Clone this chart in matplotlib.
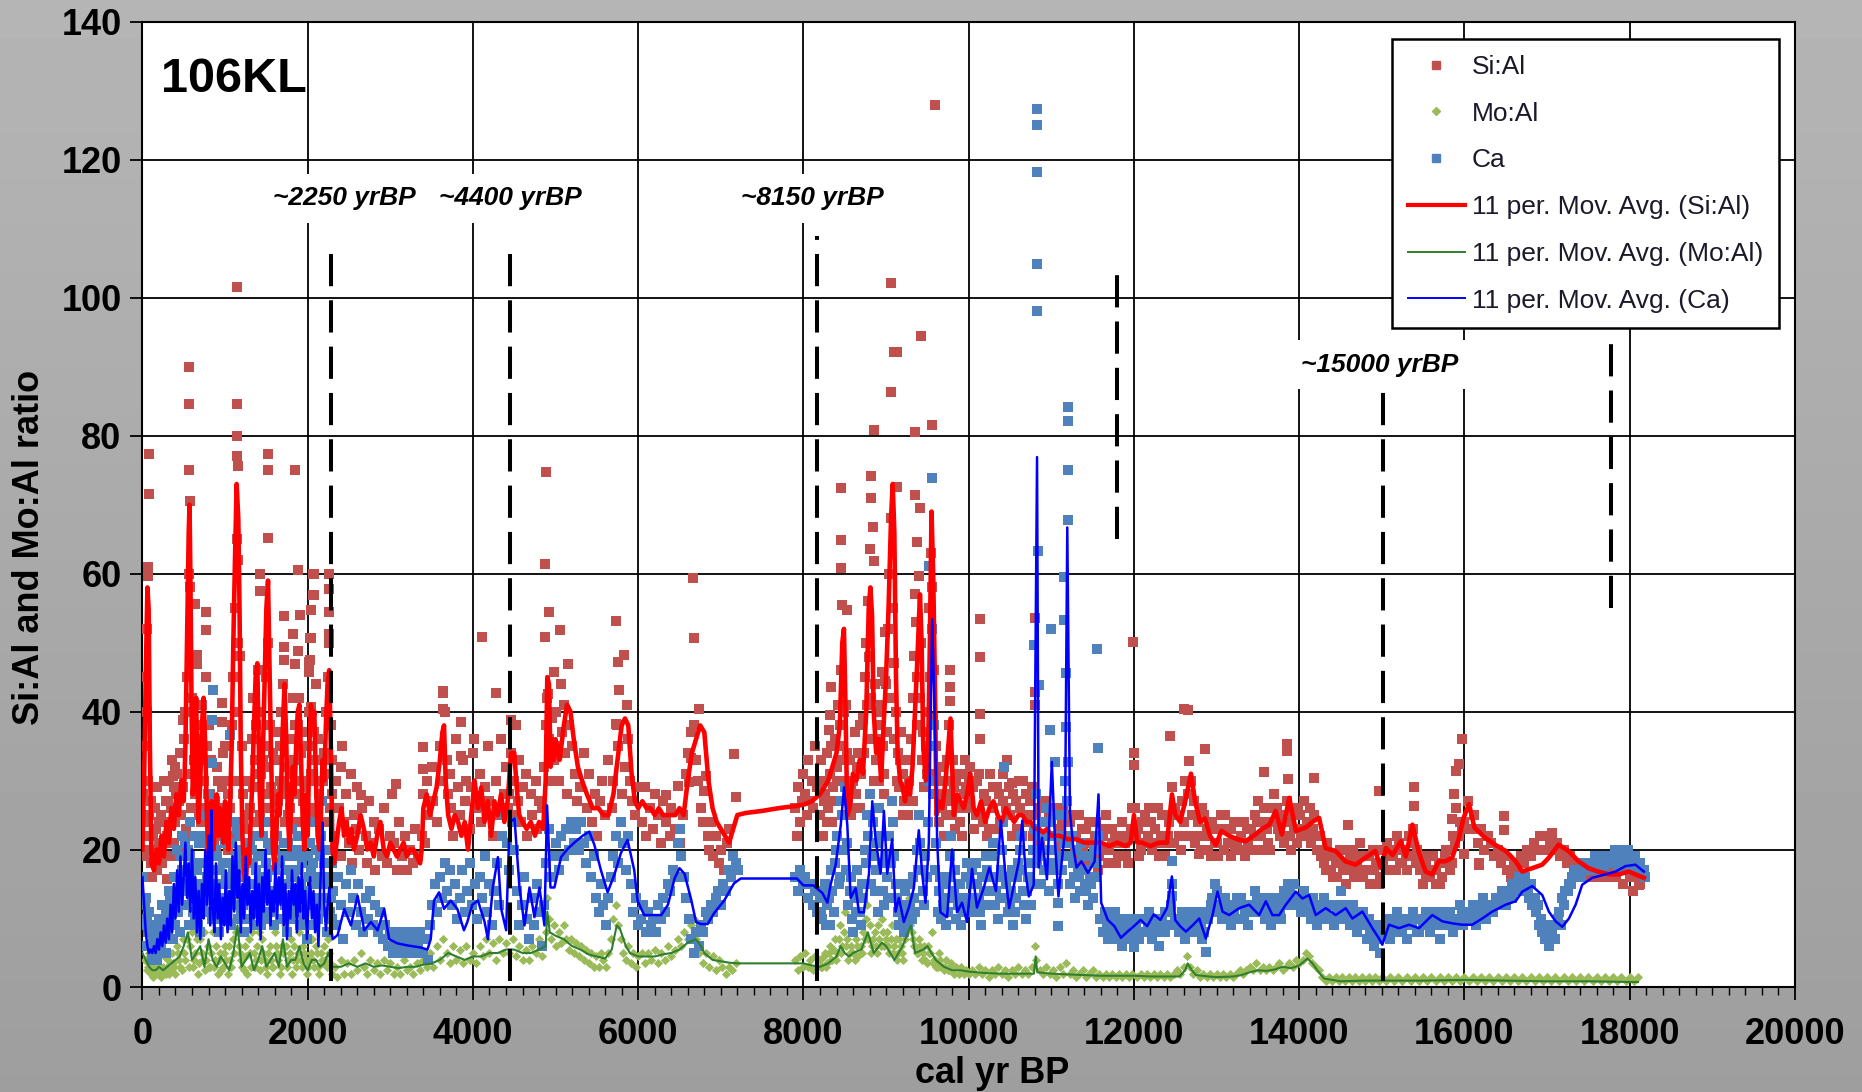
import numpy as np
import matplotlib
matplotlib.use("Agg")
import matplotlib.pyplot as plt
from matplotlib.lines import Line2D
from matplotlib.ticker import MultipleLocator

plt.rcParams['font.family'] = ['Liberation Sans', 'DejaVu Sans']

# ---------------- data ----------------
si_pts = [
 (10,28),(20,22),(30,35),(40,45),(50,52),(60,40),(70,30),(80,25),(100,18),(120,16),(140,20),(160,23),(180,17),(200,21),
 (220,25),(240,19),(260,24),(280,27),(300,22),(320,30),(340,26),(360,33),(380,29),(400,24),(420,31),(440,27),(460,34),
 (480,22),(500,36),(520,40),(540,45),(560,60),(580,58),(600,42),(620,33),(640,28),(660,31),(680,25),(700,36),(720,41),
 (740,30),(760,26),(780,35),(800,38),(820,28),(840,24),(860,21),(880,27),(900,32),(920,25),(940,22),(960,29),(980,34),
 (1000,30),(1020,24),(1040,20),(1060,26),(1080,38),(1100,45),(1120,55),(1140,65),(1160,62),(1180,48),(1200,35),(1220,28),
 (1240,23),(1260,19),(1280,25),(1300,30),(1320,36),(1340,42),(1360,33),(1380,38),(1400,46),(1420,40),(1440,31),(1460,26),
 (1480,35),(1500,45),(1520,50),(1540,38),(1560,29),(1580,24),(1600,28),(1620,33),(1640,37),(1660,30),(1680,40),(1700,44),
 (1720,36),(1740,28),(1760,25),(1780,31),(1800,36),(1820,42),(1840,33),(1860,28),(1880,38),(1900,42),(1920,34),(1940,27),
 (1960,24),(1980,30),(2000,35),(2020,40),(2040,31),(2060,26),(2080,37),(2100,44),(2120,36),(2140,28),(2160,24),(2180,30),
 (2200,34),(2220,40),(2240,45),(2260,50),(2280,38),(2300,28),
 (566,89.9),(566,84.6),(1147,84.6),(1147,80),(1150,77),(1160,75.6),(83,77.4),(83,71.5),(566,75),(575,70.6),(1521,77.4),
 (1521,75),(1852,75),(1521,65.2),(71,61),(71,59.7),(1884,60.6),(2077,59.9),(1421,59.9),(1421,57.5),(2077,56.9),(1715,53.8),
 (1904,54),(1824,51.3),(768,54.4),(768,51.9),(1715,49.4),(639,55.6),(1884,48.8),(2025,50.6),(2025,47.5),(1715,47.5),
 (1844,46.9),(768,45),(848,43.2),(957,41.3),(494,38.8),(957,38.5),(393,32),(373,30.7),(292,22),(292,15.8),(655,48.2),
 (655,46.9),(1150,101.5),
 (2060,60),(2060,56.9),(2040,54.7),(2040,50.6),(2260,60),(2260,57.8),(2260,54.4),(2260,51.3),(2020,47.2),(2020,45.7),
 (2040,40.7),(2400,32),(2640,27.9),(3065,29.5),(3390,34.8),(3390,31.7),(3640,42.7),(3640,40.4),(3850,38.5),(3850,33.5),
 (4110,50.8),(4010,36),
 (2320,22),(2340,30),(2380,26),(2400,19),(2420,35),(2440,24),(2460,28),(2500,21),(2520,31),(2540,18),(2560,25),(2580,23),
 (2600,29),(2620,20),(2660,26),(2700,22),(2720,18),(2740,27),(2760,21),(2800,24),(2820,17),(2860,23),(2900,19),(2920,26),
 (2960,18),(3000,22),(3020,28),(3040,21),(3080,17),(3100,24),(3140,19),(3180,22),(3200,17),(3240,20),(3280,18),(3300,23),
 (3340,19),(3380,22),(3400,28),(3420,21),(3440,30),(3460,25),(3500,32),(3520,27),(3560,24),(3600,35),(3620,30),(3640,43),
 (3660,40),(3680,33),(3700,28),(3720,31),(3740,26),(3760,22),(3800,36),(3820,29),(3840,25),(3880,33),(3900,27),(3920,30),
 (3960,23),(3980,29),(4000,34),(4040,26),(4080,31),(4100,24),(4140,29),(4180,35),(4200,27),(4240,22),(4280,30),(4300,25),
 (4340,36),(4380,28),(4400,32),(4420,26),
 (4885,74.8),(4873,61.4),(4925,54.4),(4873,50.8),(5058,51.8),(4985,45.7),(5147,46.9),(5730,53.1),(5830,48.2),(5750,47.2),
 (5770,43.2),(4280,42.7),(4460,38.8),(5730,38.2),(4905,42.6),
 (4440,28),(4460,34),(4480,25),(4500,30),(4520,38),(4540,27),(4560,33),(4580,24),(4600,29),(4640,31),(4660,22),(4700,28),
 (4720,25),(4760,30),(4780,23),(4800,27),(4840,26),(4860,32),(4880,38),(4900,42),(4920,36),(4940,30),(4960,39),(4980,33),
 (5000,40),(5020,35),(5040,30),(5060,44),(5080,37),(5100,41),(5120,34),(5140,28),(5160,38),(5200,35),(5240,31),(5260,27),
 (5300,29),(5340,34),(5380,26),(5400,31),(5440,24),(5480,28),(5500,22),(5540,27),(5560,30),(5600,25),(5640,33),(5680,26),
 (5700,30),(5740,38),(5760,35),(5800,28),(5840,32),(5860,41),(5880,36),(5900,30),(5920,27),(5960,25),(6000,29),
 (6660,59.4),(6672,50.7),(6740,40.4),(7160,33.8),(6640,33.2),(6620,29.8),(6480,29.2),(6340,27.9),(7180,27.6),(6820,30.7),
 (6800,28.5),
 (6040,24),(6080,29),(6100,22),(6140,26),(6180,23),(6200,28),(6240,25),(6280,21),(6300,27),(6340,24),(6380,22),(6400,26),
 (6440,23),(6500,21),(6540,25),(6580,31),(6600,34),(6640,37),(6680,38),(6700,33),(6720,30),(6760,26),(6780,24),(6840,22),
 (6860,20),(6880,24),(6900,19),(6940,22),(6980,18),(7000,20),(7040,17),(7080,21),(7100,23),
 (7900,26),(7920,22),(7940,29),(7960,24),(7980,27),(8000,31),(8020,28),(8040,25),(8060,33),(8080,27),(8100,30),(8120,26),
 (8140,35),(8160,29),
 (9054,102.2),(9094,92.1),(9135,92.1),(9424,94.4),(9054,86.3),(8853,80.8),(9356,80.6),(9557,81.5),(8813,74.1),(8451,72.4),
 (9135,72.5),(9356,71.4),(9416,69.5),(8813,71),(8845,66.8),(8451,64.9),(8805,63.6),(8853,61.8),(9376,64.6),(8451,60.8),
 (9396,59.7),(8983,51.5),(8471,55.5),(8531,54.8),(10140,53.4),(10140,47.9),(9778,46.1),(9778,43.6),(8330,43.6),(10140,39.7),
 (10140,36),(9778,41.6),(8322,39.5),(8310,37.4),(8950,45.8),(8990,44.4),(9356,57),(8793,47.9),(9590,128),
 (8200,25),(8220,30),(8240,22),(8260,28),(8280,34),(8300,26),(8320,31),(8340,24),(8360,29),(8380,36),(8400,32),(8420,41),
 (8440,38),(8460,46),(8480,35),(8500,30),(8520,41),(8540,27),(8560,33),(8580,25),(8600,30),(8620,37),(8640,28),(8660,34),
 (8680,26),(8700,31),(8720,39),(8740,45),(8760,50),(8780,56),(8800,48),(8820,42),(8840,36),(8860,44),(8880,33),(8900,38),
 (8920,30),(8940,41),(8960,35),(8980,28),(9000,44),(9020,52),(9040,60),(9060,68),(9080,55),(9100,47),(9120,40),(9140,34),
 (9160,29),(9180,37),(9200,31),(9220,27),(9240,33),(9260,25),(9280,30),(9300,36),(9320,42),(9340,48),(9360,53),(9380,45),
 (9400,38),(9420,50),(9440,33),(9460,29),(9480,35),(9500,40),(9520,55),(9540,63),(9560,58),(9580,46),(9600,35),(9620,28),
 (9640,24),(9660,30),(9680,26),(9700,22),(9720,28),(9740,33),(9760,38),(9780,30),(9800,25),(9820,29),(9840,23),(9860,27),
 (9880,31),(9900,26),(9920,22),(9940,28),(9960,33),(9980,26),(10000,30),
 (11993,50.1),(12600,40.4),(12440,36.5),(12000,34),(12000,32.3),(10530,29.7),(10800,53.5),(10800,42.9),(10800,41),
 (10020,27),(10060,23),(10100,30),(10140,25),(10180,28),(10220,22),(10260,31),(10300,26),(10340,29),(10380,24),(10420,27),
 (10460,33),(10500,25),(10540,28),(10580,23),(10620,26),(10660,30),(10700,24),(10740,27),(10780,22),(10820,25),(10860,21),
 (10900,24),(10940,27),(10980,22),(11020,25),(11060,20),(11100,23),(11140,26),(11180,21),(11220,24),(11260,19),(11300,22),
 (11340,25),(11380,20),(11420,23),(11460,18),(11500,21),(11540,24),(11580,19),(11620,22),(11660,25),(11700,20),(11740,23),
 (11780,18),(11820,21),(11860,24),(11900,19),(11940,22),(11980,26),
 (12660,40.2),(12862,34.6),(13858,35.3),(13858,34.3),(13568,31.2),(13870,30.2),(14180,30.4),(12670,32.9),(14966,28.5),
 (15393,29),(15389,26.3),(14595,23.6),(15966,36),(15933,32.4),(15893,31.4),(15877,28.1),(15853,24.4),(15994,19.3),
 (16175,18.1),(12790,19.3),
 (12020,22),(12060,19),(12100,24),(12140,21),(12180,26),(12220,20),(12260,23),(12300,19),(12340,25),(12380,21),(12420,24),
 (12460,29),(12500,26),(12540,22),(12580,27),(12620,30),(12660,28),(12700,25),(12740,21),(12780,24),(12820,26),(12860,22),
 (12900,20),(12940,24),(12980,21),(13020,19),(13060,23),(13100,25),(13140,21),(13180,23),(13220,20),(13260,24),(13300,22),
 (13340,19),(13380,21),(13420,23),(13460,25),(13500,27),(13540,22),(13580,24),(13620,21),(13660,26),(13700,28),(13740,23),
 (13780,25),(13820,21),(13860,24),(13900,20),(13940,23),(13980,26),(14020,22),(14060,27),(14100,24),(14140,21),(14180,25),
 (14220,22),(14260,19),(14300,18),(14340,21),(14380,17),(14420,19),(14460,16),(14500,18),(14540,20),(14580,17),(14620,19),
 (14660,16),(14700,18),(14740,21),(14780,17),(14820,19),(14860,15),(14900,17),(14940,20),(14980,16),(15020,18),(15060,21),
 (15100,17),(15140,19),(15180,22),(15220,18),(15260,20),(15300,17),(15340,19),(15380,23),(15420,20),(15460,17),(15500,15),
 (15540,18),(15580,16),(15620,19),(15660,17),(15700,15),(15740,18),(15780,20),(15820,17),(15860,22),(15900,26),(15940,24),
 (16478,24.9),(16478,22.9),(16176,17.8),(17063,22.4),(18110,14.9),
 (16000,24),(16040,27),(16080,23),(16120,25),(16160,21),(16200,23),(16240,20),(16280,22),(16320,21),(16360,19),(16400,20),
 (16440,18),(16480,19),(16520,17),(16560,16),(16600,18),(16640,17),(16680,19),(16720,18),(16760,20),(16800,19),(16840,21),
 (16880,20),(16920,22),(16960,20),(17000,22),(17040,21),(17080,20),(17120,21),(17160,19),(17200,20),(17240,18),(17280,19),
 (17320,17),(17360,18),(17400,17),(17440,16),(17480,17),(17520,16),(17560,17),(17600,16),(17640,17),(17680,16),(17720,17),
 (17760,16),(17800,17),(17840,16),(17880,17),(17920,15),(17960,17),(18000,16),(18040,14),(18080,16),(18120,15),(18160,17),
]

si_pts_dense = [
 (15,19),(45,24),(85,20),(105,27),(125,22),(155,26),(175,29),(205,24),(235,18),(255,30),(275,21),(305,27),(335,19),
 (355,24),(385,21),(405,28),(435,20),(465,25),(495,29),(525,23),(555,31),(585,26),(615,22),(645,38),(675,30),(705,24),
 (735,33),(765,21),(795,28),(825,33),(855,27),(885,20),(915,30),(945,26),(975,23),(1005,35),(1035,28),(1065,22),(1095,30),
 (1125,40),(1155,50),(1185,30),(1215,24),(1245,30),(1275,21),(1305,26),(1335,29),(1365,24),(1395,31),(1425,25),(1455,33),
 (1485,28),(1515,32),(1545,26),(1575,34),(1605,22),(1635,27),(1665,35),(1695,29),(1725,24),(1755,32),(1785,26),(1815,29),
 (1845,38),(1875,24),(1905,30),(1935,37),(1965,29),(1995,26),(2025,30),(2055,33),(2085,25),(2115,30),(2145,33),(2175,27),
 (2205,24),(2235,31),(2265,26),(2295,33),
 (8210,33),(8250,27),(8290,24),(8330,35),(8370,27),(8410,30),(8450,33),(8490,40),(8530,34),(8570,29),(8610,26),(8650,32),
 (8690,38),(8730,34),(8770,41),(8810,36),(8850,30),(8890,40),(8930,36),(8970,31),(9010,37),(9050,42),(9090,36),(9130,30),
 (9170,33),(9210,25),(9250,28),(9290,33),(9330,27),(9370,38),(9410,42),(9450,37),(9490,31),(9530,45),(9570,39),(9610,31),
 (9650,27),(9690,32),(9730,25),(9770,27),(9810,33),(9850,30),(9890,24),(9930,31),(9970,29),
 (10010,32),(10050,29),(10090,25),(10130,31),(10170,24),(10210,27),(10250,23),(10290,29),(10330,23),(10370,28),(10410,31),
 (10450,26),(10490,29),(10530,22),(10570,27),(10610,30),(10650,22),(10690,28),(10730,25),(10770,29),(10810,23),(10850,26),
 (10890,27),(10930,20),(10970,25),(11010,22),(11050,26),(11090,21),(11130,24),(11170,19),(11210,22),(11250,25),(11290,20),
 (11330,18),(11370,23),(11410,21),(11450,24),(11490,19),(11530,22),(11570,17),(11610,20),(11650,23),(11690,18),(11730,21),
 (11770,22),(11810,19),(11850,22),(11890,21),(11930,18),(11970,23),
 (12010,26),(12050,23),(12090,20),(12130,25),(12170,22),(12210,24),(12250,21),(12290,26),(12330,22),(12370,19),(12410,22),
 (12450,25),(12490,21),(12530,25),(12570,20),(12610,24),(12650,22),(12690,30),(12730,27),(12770,22),(12810,20),(12850,25),
 (12890,23),(12930,19),(12970,23),(13010,21),(13050,25),(13090,20),(13130,23),(13170,19),(13210,24),(13250,21),(13290,20),
 (13330,24),(13370,23),(13410,20),(13450,22),(13490,24),(13530,20),(13570,26),(13610,23),(13650,20),(13690,24),(13730,26),
 (13770,22),(13810,24),(13850,27),(13890,22),(13930,25),(13970,21),(14010,25),(14050,23),(14090,22),(14130,26),(14170,23),
 (14210,20),(14250,22),(14290,20),(14330,17),(14370,19),(14410,16),(14450,18),(14490,20),(14530,17),(14570,15),(14610,18),
 (14650,20),(14690,17),(14730,19),(14770,16),(14810,17),(14850,19),(14890,20),(14930,18),(14970,15),(15010,20),(15050,17),
 (15090,19),(15130,20),(15170,17),(15210,21),(15250,18),(15290,19),(15330,22),(15370,21),(15410,18),(15450,19),(15490,17),
 (15530,16),(15570,19),(15610,17),(15650,15),(15690,18),(15730,16),(15770,19),(15810,20),(15850,18),(15890,21),(15930,22),
 (15970,23),
]

ca_pts = [
 (10,16),(30,12),(50,10),(70,8),(90,6),(110,5),(130,7),(150,4),(170,6),(190,5),(210,8),(230,6),(250,9),(270,7),(290,11),
 (310,8),(330,13),(350,10),(370,7),(390,12),(410,16),(430,11),(450,19),(470,14),(490,22),(510,17),(530,12),(550,20),(570,24),
 (590,16),(610,11),(630,18),(650,14),(670,9),(690,21),(710,15),(730,12),(750,18),(770,25),(790,28),(810,19),(830,14),(850,26),
 (870,17),(890,11),(910,15),(930,8),(950,13),(970,18),(990,10),(1010,16),(1030,21),(1050,13),(1070,9),(1090,17),(1110,24),
 (1130,19),(1150,14),(1170,22),(1190,11),(1210,16),(1230,8),(1250,13),(1270,18),(1290,10),(1310,15),(1330,20),(1350,12),
 (1370,17),(1390,22),(1410,14),(1430,9),(1450,19),(1470,13),(1490,24),(1510,16),(1530,11),(1550,20),(1570,14),(1590,9),
 (1610,17),(1630,22),(1650,13),(1670,18),(1690,10),(1710,21),(1730,15),(1750,8),(1770,19),(1790,13),(1810,23),(1830,16),
 (1850,11),(1870,20),(1890,14),(1910,9),(1930,18),(1950,22),(1970,13),(1990,7),(2010,16),(2030,21),(2050,12),(2070,18),
 (2090,24),(2110,15),(2130,10),(2150,19),(2170,27),(2190,20),(2210,13),(2230,8),(2250,15),(2270,11),(2290,18),
 (848,43.2),(836,38.8),(1058,36.6),(836,32.6),
 (2310,14),(2340,9),(2370,16),(2400,12),(2430,7),(2460,15),(2490,11),(2520,17),(2550,13),(2580,9),(2610,15),(2640,11),
 (2670,8),(2700,13),(2730,10),(2760,14),(2790,9),(2820,12),(2850,8),(2880,11),(2910,7),(2940,9),(2970,6),(3000,8),(3030,5),
 (3060,7),(3090,6),(3120,8),(3150,5),(3180,7),(3210,6),(3240,8),(3270,5),(3300,7),(3330,6),(3360,8),(3390,5),(3420,7),
 (3450,4),(3480,9),(3510,12),(3540,15),(3570,11),(3600,16),(3630,13),(3660,18),(3690,14),(3720,17),(3750,12),(3780,15),
 (3810,10),(3840,13),(3870,17),(3900,11),(3930,14),(3960,18),(3990,12),(4020,15),(4050,10),(4080,16),(4110,13),(4140,19),
 (4170,11),(4200,15),(4230,9),(4260,14),(4290,18),(4320,12),(4350,22),(4380,25),(4410,21),(4440,17),
 (4470,24),(4500,20),(4530,14),(4560,9),(4590,12),(4620,16),(4650,10),(4680,7),(4710,13),(4740,9),(4770,15),(4800,11),
 (4830,6),(4860,12),(4890,18),(4920,23),(4950,16),(4980,19),(5010,21),(5040,17),(5070,22),(5100,19),(5130,23),(5160,20),
 (5190,24),(5220,21),(5250,23),(5280,20),(5310,24),(5340,21),(5370,18),(5400,22),(5430,16),(5460,19),(5490,13),(5520,11),
 (5550,15),(5580,12),(5610,9),(5640,13),(5670,16),(5700,19),(5730,22),(5760,18),(5790,24),(5820,21),(5850,17),(5880,22),
 (5910,15),(5940,11),(5970,13),(6000,9),
 (6030,10),(6060,12),(6090,8),(6120,11),(6150,9),(6180,10),(6210,8),(6240,12),(6270,10),(6300,13),(6330,11),(6360,15),
 (6390,14),(6420,17),(6450,16),(6480,21),(6500,23),(6520,19),(6550,16),(6580,13),(6610,10),(6640,7),(6670,5),(6700,8),
 (6730,6),(6760,9),(6790,8),(6820,11),(6850,10),(6880,12),(6910,11),(6940,13),(6970,14),(7000,12),(7030,15),(7060,14),
 (7090,17),(7120,16),(7150,19),(7180,18),(7210,17),
 (7900,16),(7930,14),(7960,17),(7990,15),(8020,16),(8050,13),(8080,15),(8110,12),(8140,14),(8170,11),
 (8200,13),(8230,10),(8260,15),(8290,12),(8320,9),(8350,14),(8380,18),(8410,22),(8440,16),(8470,25),(8500,29),(8530,21),
 (8560,14),(8590,10),(8620,13),(8650,17),(8680,11),(8710,15),(8740,20),(8770,25),(8800,28),(8830,19),(8860,14),(8890,21),
 (8920,26),(8950,18),(8980,12),(9010,16),(9040,22),(9070,27),(9100,19),(9130,13),(9160,9),(9190,12),(9220,8),(9250,11),
 (9280,15),(9310,10),(9340,13),(9370,20),(9400,25),(9430,17),(9460,12),(9490,16),(9520,30),(9550,45),(9580,38),(9610,21),
 (9640,14),(9670,10),(9700,13),(9730,9),(9760,16),(9790,22),(9820,14),(9850,10),(9880,13),(9910,9),(9940,12),(9970,16),
 (10000,11),(9557,73.8),(9517,61.1),(9550,52),
 (10827,127.4),(10827,125.1),(10827,118.3),(10827,104.9),(10827,98.1),(11197,84.1),(11205,82.2),(11205,75),(11197,67.8),
 (10839,63.3),(11157,59.5),(11000,52),(11157,53.3),(10787,49.7),(11555,49.1),(10847,43.8),(11177,45.6),(10986,37.4),
 (11177,37.8),(11563,34.7),(10430,32),(11205,32.7),(11046,32.7),(11086,12.3),(11086,8.9),(12000,5.9),(12460,18.3),
 (12460,13.2),
 (10030,15),(10060,11),(10090,18),(10120,13),(10150,9),(10180,14),(10210,19),(10240,12),(10270,16),(10300,21),(10330,14),
 (10360,10),(10390,17),(10420,24),(10450,15),(10480,11),(10510,14),(10540,9),(10570,13),(10600,18),(10630,22),(10660,14),
 (10690,10),(10720,16),(10750,12),(10780,20),(10810,28),(10840,22),(10870,15),(10900,20),(10930,26),(10960,18),(10990,24),
 (11020,17),(11050,22),(11080,15),(11110,19),(11140,25),(11170,30),(11200,21),(11230,15),(11260,18),(11290,13),(11320,17),
 (11350,14),(11380,19),(11410,15),(11440,12),(11470,16),(11500,13),(11530,18),(11560,22),(11590,10),(11620,8),(11650,11),
 (11680,7),(11710,10),(11740,8),(11770,11),(11800,7),(11830,9),(11860,6),(11890,9),(11920,8),(11950,10),(11980,7),
 (12020,9),(12060,7),(12100,10),(12140,8),(12180,11),(12220,7),(12260,9),(12300,6),(12340,10),(12380,8),(12420,11),
 (12460,15),(12500,10),(12540,8),(12580,11),(12620,7),(12660,9),(12700,10),(12740,8),(12780,11),(12820,7),(12870,5.2),
 (12900,10),(12940,13),(12980,15),(13020,12),(13060,10),(13100,13),(13140,11),(13180,9),(13220,12),(13260,10),(13300,13),
 (13340,11),(13380,9),(13420,12),(13460,14),(13500,11),(13540,13),(13580,10),(13620,12),(13660,9),(13700,11),(13740,13),
 (13780,10),(13820,14),(13860,15),(13900,12),(13940,15),(13980,13),(14020,11),(14060,14),(14100,12),(14140,10),(14180,12),
 (14220,9),(14260,11),(14300,13),(14340,10),(14380,12),(14420,9),(14460,11),(14500,14),(14540,10),(14580,12),(14620,9),
 (14660,11),(14700,8),(14740,10),(14780,9),(14820,7),(14860,8),(14900,6),(14940,7),(14980,5),(15020,8),(15060,10),
 (15100,7),(15140,9),(15180,11),(15220,8),(15260,10),(15300,7),(15340,9),(15380,11),(15420,8),(15460,10),(15500,9),
 (15540,11),(15580,8),(15620,10),(15660,9),(15700,7),(15740,10),(15780,9),(15820,11),(15860,8),(15900,10),(15940,12),
 (15980,9),(16020,11),(16060,10),(16100,12),(16140,9),(16180,11),(16220,13),(16260,10),(16300,12),(16340,11),(16380,13),
 (16420,12),(16460,14),(16500,12),(16540,13),(16580,15),(16620,14),(16660,16),(16700,15),(16740,14),(16780,13),(16820,12),
 (16860,11),(16900,9),(16940,8),(16980,7),(17020,6),(17060,8),(17100,9),(17140,11),(17180,13),(17220,14),(17260,15),
 (17300,16),(17340,17),(17380,16),(17420,18),(17460,17),(17500,18),(17540,17),(17580,19),(17620,18),(17660,17),(17700,18),
 (17740,19),(17780,18),(17820,20),(17860,17),(17900,19),(17940,18),(17980,20),(18020,17),(18060,19),(18100,18),(18140,17),
 (18180,16),
]

ca_pts_dense = [
 (20,9),(40,13),(60,6),(80,11),(100,8),(120,4),(140,9),(160,7),(180,4),(200,10),(220,5),(240,12),(260,8),(280,5),(300,10),
 (320,14),(340,7),(360,12),(380,16),(400,9),(420,20),(440,13),(460,8),(480,17),(500,12),(520,21),(540,15),(560,9),(580,19),
 (600,13),(620,22),(640,10),(660,17),(680,13),(700,8),(720,18),(740,22),(760,11),(780,16),(800,21),(820,24),(840,10),
 (860,20),(880,14),(900,19),(920,12),(940,17),(960,10),(980,15),(1000,21),(1020,11),(1040,18),(1060,15),(1080,21),
 (1100,12),(1120,18),(1140,23),(1160,10),(1180,17),(1200,20),(1220,12),(1240,18),(1260,10),(1280,15),(1300,21),(1320,13),
 (1340,18),(1360,9),(1380,15),(1400,19),(1420,11),(1440,16),(1460,22),(1480,10),(1500,18),(1520,21),(1540,13),(1560,17),
 (1580,11),(1600,20),(1620,14),(1640,18),(1660,10),(1680,15),(1700,19),(1720,12),(1740,17),(1760,21),(1780,10),(1800,16),
 (1820,19),(1840,12),(1860,17),(1880,22),(1900,11),(1920,15),(1940,19),(1960,10),(1980,14),(2000,19),(2020,12),(2040,17),
 (2060,9),(2080,13),(2100,20),(2120,12),(2140,16),(2160,22),(2180,15),(2200,18),(2220,11),(2240,16),(2260,20),(2280,13),
 (2300,10),
 (8215,11),(8245,14),(8275,9),(8305,13),(8335,17),(8365,11),(8395,20),(8425,15),(8455,27),(8485,20),(8515,17),(8545,12),
 (8575,16),(8605,8),(8635,11),(8665,14),(8695,9),(8725,13),(8755,18),(8785,22),(8815,15),(8845,24),(8875,17),(8905,11),
 (8935,22),(8965,14),(8995,19),(9025,13),(9055,18),(9085,24),(9115,15),(9145,11),(9175,15),(9205,10),(9235,14),(9265,9),
 (9295,12),(9325,16),(9355,11),(9385,17),(9415,21),(9445,14),(9475,19),(9505,24),(9535,35),(9565,28),(9595,17),(9625,11),
 (9655,16),(9685,12),(9715,15),(9745,11),(9775,19),(9805,13),(9835,17),(9865,12),(9895,15),(9925,11),(9955,13),(9985,18),
 (10015,13),(10045,17),(10075,12),(10105,15),(10135,11),(10165,16),(10195,12),(10225,17),(10255,14),(10285,19),(10315,12),
 (10345,16),(10375,13),(10405,20),(10435,13),(10465,16),(10495,12),(10525,17),(10555,11),(10585,16),(10615,20),(10645,17),
 (10675,12),(10705,14),(10735,18),(10765,15),(10795,23),(10825,18),(10855,19),(10885,24),(10915,17),(10945,22),(10975,14),
 (11005,20),(11035,25),(11065,18),(11095,22),(11125,17),(11155,21),(11185,27),(11215,19),(11245,22),(11275,16),(11305,20),
 (11335,16),(11365,21),(11395,17),(11425,14),(11455,19),(11485,15),(11515,20),(11545,16),
 (11610,10),(11640,8),(11670,9),(11700,7),(11730,9),(11760,8),(11790,10),(11820,8),(11850,9),(11880,7),(11910,10),
 (11940,8),(11970,9),(12010,8),(12050,10),(12090,8),(12130,10),(12170,9),(12210,10),(12250,8),(12290,10),(12330,9),
 (12370,11),(12410,9),(12450,12),(12490,9),(12530,10),(12570,9),(12610,10),(12650,8),(12690,11),(12730,9),(12770,10),
 (12810,9),(12850,8),(12890,11),(12930,12),(12970,11),(13010,14),(13050,12),(13090,11),(13130,12),(13170,10),(13210,11),
 (13250,13),(13290,12),(13330,10),(13370,12),(13410,11),(13450,12),(13490,13),(13530,11),(13570,12),(13610,11),(13650,13),
 (13690,10),(13730,12),(13770,11),(13810,12),(13850,13),(13890,14),(13930,13),(13970,12),(14010,13),(14050,12),(14090,13),
 (14130,11),(14170,13),(14210,11),(14250,10),(14290,12),(14330,11),(14370,10),(14410,12),(14450,10),(14490,11),(14530,12),
 (14570,11),(14610,10),(14650,12),(14690,10),(14730,9),(14770,11),(14810,9),(14850,10),(14890,8),(14930,9),(14970,7),
 (15010,9),(15050,8),(15090,9),(15130,8),(15170,10),(15210,9),(15250,8),(15290,9),(15330,10),(15370,9),(15410,10),
 (15450,8),(15490,10),(15530,9),(15570,10),(15610,11),(15650,10),(15690,9),(15730,11),(15770,10),(15810,9),(15850,10),
 (15890,9),(15930,10),(15970,11),(16010,10),(16050,11),(16090,10),(16130,11),(16170,10),(16210,12),(16250,11),(16290,11),
 (16330,12),(16370,12),(16410,13),(16450,12),(16490,13),(16530,14),(16570,13),(16610,15),(16650,14),(16690,15),(16730,16),
 (16770,14),(16810,15),(16850,13),(16890,12),(16930,10),(16970,9),(17010,8),(17050,9),(17090,7),(17130,10),(17170,9),
 (17210,12),(17250,14),(17290,15),(17330,16),(17370,17),(17410,16),(17450,18),(17490,17),(17530,18),(17570,17),(17610,19),
 (17650,18),(17690,17),(17730,19),(17770,18),(17810,19),(17850,18),(17890,20),(17930,19),(17970,18),(18010,19),(18050,18),
 (18090,17),(18130,18),(18170,17),
]

mo_pts = [
 (10,6),(40,4),(70,3),(100,2),(130,1.5),(160,3),(190,2),(220,1.5),(250,3),(280,2),(310,4),(340,2.5),(370,3.5),(400,2),
 (430,5),(460,3),(490,7),(520,4),(550,9),(580,6),(610,3),(640,5),(670,2),(700,7),(730,4),(760,2.5),(790,6),(820,3),(850,8),
 (880,4),(910,2),(940,5),(970,3),(1000,6),(1030,2),(1060,4),(1090,7),(1120,10),(1150,13),(1180,5),(1210,3),(1240,6),
 (1270,2),(1300,5),(1330,8),(1360,3),(1390,6),(1420,2.5),(1450,7),(1480,4),(1510,2),(1540,6),(1570,3),(1600,8),(1630,5),
 (1660,2),(1690,6),(1720,9),(1750,3),(1780,5),(1810,2),(1840,6),(1870,4),(1900,8),(1930,3),(1960,5),(1990,2),(2020,4),
 (2050,7),(2080,3),(2110,5),(2140,2),(2170,4),(2200,6),(2230,3),(2260,5),(2290,2),
 (2330,3),(2360,1.5),(2400,4),(2440,2),(2480,3.5),(2520,2),(2560,4),(2600,2.5),(2640,5),(2680,3),(2720,2),(2760,4),
 (2800,2.5),(2840,3.5),(2880,2),(2920,4),(2960,2.5),(3000,3.5),(3040,2),(3080,3),(3120,2),(3160,4),(3200,2.5),(3240,3),
 (3280,2),(3320,3.5),(3360,2.5),(3400,4),(3440,3),(3480,5),(3520,3),(3560,6),(3600,4),(3640,7),(3680,5),(3720,3.5),
 (3760,6),(3800,4),(3840,5.5),(3880,3.5),(3920,6),(3960,4),(4000,5),(4040,3.5),(4080,6),(4120,4.5),(4160,7),(4200,5),
 (4240,6.5),(4280,4),(4320,7),(4360,5),(4400,6.5),
 (4440,5),(4480,7),(4520,4.5),(4560,6),(4600,4),(4640,5.5),(4680,4),(4720,6),(4760,5),(4800,7),(4840,4.5),(4880,8),
 (4900,13),(4920,10),(4950,7),(4980,9),(5010,6),(5040,8),(5070,6.5),(5100,9),(5130,7),(5160,5.5),(5190,7),(5220,5),
 (5250,6.5),(5280,4.5),(5310,6),(5340,4),(5370,5.5),(5400,3.5),(5430,5),(5460,3),(5490,4.5),(5520,3),(5550,5),(5580,4),
 (5610,3),(5640,5),(5670,7),(5700,10),(5730,12),(5760,9),(5790,7),(5820,5),(5850,4),(5880,6),(5910,3.5),(5940,5),(5970,3),
 (6000,4.5),
 (6040,5),(6080,3.5),(6120,5),(6160,4),(6200,5.5),(6240,3.5),(6280,5),(6320,4),(6360,6),(6400,4.5),(6440,5.5),(6480,7),
 (6520,6),(6560,8),(6600,7),(6640,9),(6680,10),(6700,7),(6740,5),(6780,3.5),(6820,5),(6860,3),(6900,4.5),(6940,2.5),
 (6980,4),(7020,3),(7060,2),(7100,3),(7140,2.5),(7180,3.5),
 (7900,4),(7930,2.5),(7960,4.5),(7990,3),(8020,5),(8050,3),(8080,4),(8110,2.5),(8140,4.5),(8170,3),
 (8200,4),(8230,3),(8260,5),(8290,3.5),(8320,6),(8350,4),(8380,7),(8410,5),(8440,9),(8470,6),(8500,11),(8530,7),(8560,5),
 (8590,8),(8620,4),(8650,6),(8680,9),(8710,5),(8740,7),(8770,12),(8800,9),(8830,6),(8860,8),(8890,5),(8920,7),(8950,10),
 (8980,6),(9010,8),(9040,5),(9070,9),(9100,6),(9130,4),(9160,7),(9190,5),(9220,8),(9250,10),(9280,13),(9310,8),(9340,6),
 (9370,5),(9400,7),(9430,4),(9460,6),(9490,3.5),(9520,5),(9550,8),(9580,4),(9610,3),(9640,5),(9670,3),(9700,2.5),(9730,4),
 (9760,2.5),(9790,3.5),(9820,2),(9850,3),(9880,2),(9910,3),(9940,2),(9970,2.5),(10000,2),
 (10040,2.5),(10080,2),(10120,3),(10160,2),(10200,2.5),(10240,1.5),(10280,2.5),(10320,2),(10360,3),(10400,2),(10440,2.5),
 (10480,1.5),(10520,2.5),(10560,2),(10600,3),(10640,2),(10680,2.5),(10720,2),(10760,3),(10800,6),(10820,4),(10860,2.5),
 (10900,2),(10940,3),(10980,2),(11020,2.5),(11060,1.5),(11100,3),(11140,2),(11180,3.5),(11220,2),(11260,2.5),(11300,1.5),
 (11340,2),(11380,2.5),(11420,1.5),(11460,2),(11500,2.5),(11540,1.5),(11580,2),(11620,1.5),(11660,2),(11700,1.5),
 (11740,2),(11780,1.5),(11820,2),(11860,1.5),(11900,2),(11940,1.5),(11980,2),
 (12040,1.5),(12080,2),(12120,1.5),(12160,2),(12200,1.5),(12240,2),(12280,1.5),(12320,2),(12360,1.5),(12400,2),(12440,1.5),
 (12480,2),(12520,2.5),(12560,2),(12600,3),(12640,4.5),(12680,3),(12720,2),(12760,2.5),(12800,1.5),(12840,2),(12880,1.5),
 (12920,2),(12960,1.5),(13000,2),(13040,1.5),(13080,2),(13120,1.5),(13160,2),(13200,1.5),(13240,2),(13280,2.5),(13320,2),
 (13360,2.5),(13400,3),(13440,2.5),(13480,3.5),(13520,2.5),(13560,3),(13600,2.5),(13640,3),(13680,2.5),(13720,3),
 (13760,3.5),(13800,2.5),(13840,3),(13880,3.5),(13920,3),(13960,4),(14000,3.5),(14040,4),(14080,5),(14120,4.5),(14160,3.5),
 (14200,3),(14240,2.5),(14280,1.5),(14320,1),(14360,1.5),(14400,1),(14440,1.5),(14480,1),(14520,1.5),(14560,1),(14600,1.5),
 (14640,1),(14680,1.5),(14720,1),(14760,1.5),(14800,1),(14840,1.5),(14880,1),(14920,1.5),(14960,1),(15000,1.5),(15050,1),
 (15100,1.5),(15150,1),(15200,1.5),(15250,1),(15300,1.5),(15350,1),(15400,1.5),(15450,1),(15500,1.5),(15550,1),(15600,1.5),
 (15650,1),(15700,1.5),(15750,1),(15800,1.5),(15850,1),(15900,1.5),(15950,1),(16000,1.5),(16050,1),(16100,1.5),(16150,1),
 (16200,1.5),(16250,1),(16300,1.5),(16350,1),(16400,1.5),(16450,1),(16500,1.5),(16550,1),(16600,1.5),(16650,1),(16700,1.5),
 (16750,1),(16800,1.5),(16850,1),(16900,1.5),(16950,1),(17000,1.5),(17050,1),(17100,1.5),(17150,1),(17200,1.5),(17250,1),
 (17300,1.5),(17350,1),(17400,1.5),(17450,1),(17500,1.5),(17550,1),(17600,1.5),(17650,1),(17700,1.5),(17750,1),(17800,1.5),
 (17850,1),(17900,1.5),(17950,1),(18000,1.5),(18050,1),(18100,1.5),
]

mo_pts_dense = [
 (25,4),(55,2.5),(85,5),(115,3),(145,2),(175,4),(205,3),(235,2.5),(265,4.5),(295,3),(325,2),(355,5),(385,3),(415,6),
 (445,4),(475,2.5),(505,5),(535,7),(565,3),(595,8),(625,4),(655,7),(685,3.5),(715,5),(745,8),(775,4),(805,3),(835,5),
 (865,3),(895,6),(925,4),(955,2.5),(985,5),(1015,4),(1045,6),(1075,3),(1105,5),(1135,8),(1165,6),(1195,4),(1225,2.5),
 (1255,4.5),(1285,7),(1315,3),(1345,5),(1375,4),(1405,8),(1435,4),(1465,5),(1495,3),(1525,5),(1555,4),(1585,3),(1615,6),
 (1645,4),(1675,3),(1705,5),(1735,6),(1765,4),(1795,7),(1825,4),(1855,3),(1885,5),(1915,4),(1945,6),(1975,4),(2005,3),
 (2035,5),(2065,4),(2095,6),(2125,3),(2155,5),(2185,3.5),(2215,4),(2245,7),(2275,3.5),
 (8215,3),(8245,4.5),(8275,3),(8305,5),(8335,4),(8365,5.5),(8395,4),(8425,7),(8455,5),(8485,8),(8515,6),(8545,4),(8575,6),
 (8605,5),(8635,7),(8665,4.5),(8695,6),(8725,8),(8755,10),(8785,7),(8815,5),(8845,7),(8875,6),(8905,9),(8935,6),(8965,8),
 (8995,7),(9025,6),(9055,7),(9085,5),(9115,7),(9145,5),(9175,6),(9205,4),(9235,7),(9265,11),(9295,9),(9325,7),(9355,6),
 (9385,5),(9415,6),(9445,5),(9475,4),(9505,6),(9535,5),(9565,3.5),(9595,4),(9625,3),(9655,4),(9685,3),(9715,3),(9745,2.5),
 (9775,3),
]

si_avg = [
 (0,20),(20,30),(40,45),(60,58),(75,55),(90,35),(110,18),(140,17),(170,20),(200,18),(230,22),(260,19),(290,24),(320,21),
 (350,26),(380,23),(410,28),(440,25),(470,30),(500,27),(520,35),(540,50),(560,66),(570,70),(580,60),(595,40),(610,28),
 (630,35),(650,42),(665,30),(680,24),(700,30),(720,38),(740,42),(760,35),(780,25),(800,18),(820,22),(840,27),(860,20),
 (880,24),(900,28),(920,22),(940,26),(960,23),(980,21),(1000,27),(1020,24),(1040,20),(1060,26),(1080,35),(1100,50),
 (1120,62),(1140,73),(1160,68),(1175,55),(1190,35),(1210,22),(1230,17),(1250,14),(1270,20),(1290,18),(1310,24),(1330,30),
 (1350,38),(1370,45),(1390,47),(1400,40),(1420,28),(1440,22),(1460,35),(1480,45),(1500,55),(1520,59),(1540,45),(1560,32),
 (1580,20),(1600,17),(1620,22),(1640,28),(1660,25),(1680,30),(1700,38),(1720,44),(1740,36),(1760,25),(1780,20),(1800,26),
 (1820,32),(1840,28),(1860,35),(1880,40),(1900,41),(1920,33),(1940,24),(1960,20),(1980,28),(2000,22),(2020,35),(2040,41),
 (2060,38),(2080,40),(2100,30),(2120,22),(2140,20),(2160,25),(2180,33),(2200,30),(2220,38),(2240,44),(2260,46),(2280,35),
 (2300,20),(2320,18),(2350,21),(2380,24),(2410,26),(2440,22),(2470,24),(2500,21),(2530,23),(2560,20),(2600,22),(2640,25),
 (2680,23),(2720,20),(2760,21),(2800,19),(2840,22),(2880,24),(2920,20),(2960,19),(3000,21),(3040,20),(3080,19),(3120,20),
 (3160,21),(3200,19),(3240,20),(3280,20),(3320,19),(3360,18),(3380,20),(3400,26),(3440,28),(3480,25),(3520,27),(3560,29),
 (3600,33),(3630,37),(3650,38),(3670,30),(3700,25),(3740,23),(3780,25),(3820,24),(3860,22),(3900,24),(3940,20),(3980,25),
 (4020,30),(4060,26),(4100,29),(4140,24),(4180,27),(4220,22),(4260,27),(4300,25),(4340,28),(4380,24),(4420,27),(4460,34),
 (4500,34),(4530,29),(4560,25),(4600,24),(4650,23),(4700,24),(4750,22),(4800,24),(4850,23),(4880,30),(4900,45),(4920,44),
 (4940,32),(4960,36),(4980,33),(5000,36),(5050,33),(5100,38),(5140,41),(5180,40),(5220,36),(5270,32),(5320,30),(5380,28),
 (5450,26),(5520,26),(5580,25),(5640,25),(5700,28),(5760,34),(5800,38),(5840,39),(5880,38),(5920,31),(5960,27),(6000,26),
 (6050,27),(6100,26),(6150,26),(6200,25),(6250,26),(6300,25),(6350,25),(6400,25),(6450,25),(6500,26),(6550,25),(6600,30),
 (6650,34),(6700,36),(6750,38),(6800,37),(6850,30),(6900,26),(6950,24),(7000,23),(7050,22),(7100,21),(7150,23),(7200,25),
 (7300,25.3),(7500,25.6),(7700,26),(7900,26.3),(8000,26.5),(8100,27),(8150,27.5),(8200,28),(8250,29),(8300,30),(8350,32),
 (8400,34),(8440,38),(8470,50),(8490,52),(8510,40),(8530,25),(8560,26),(8600,31),(8640,30),(8680,33),(8720,31),(8760,40),
 (8790,55),(8810,58),(8830,54),(8850,40),(8880,34),(8910,36),(8940,30),(8970,38),(9000,45),(9030,55),(9060,68),(9080,73),
 (9100,66),(9120,45),(9140,34),(9170,30),(9200,29),(9230,27),(9260,30),(9290,28),(9320,32),(9350,40),(9380,48),(9410,57),
 (9430,50),(9450,35),(9480,30),(9510,35),(9530,50),(9550,69),(9570,60),(9590,45),(9610,25),(9640,27),(9680,26),(9720,30),
 (9760,36),(9780,39),(9800,32),(9820,25),(9860,28),(9900,27),(9940,26),(9980,28),(10020,31),(10060,26),(10100,25),
 (10150,27),(10200,24),(10250,26),(10300,27),(10350,25),(10400,24),(10450,26),(10500,25),(10550,24),(10600,25),(10650,25),
 (10700,24),(10750,24),(10800,23),(10850,23),(10900,22.5),(10950,23),(11000,22),(11100,22),(11200,21.5),(11300,21.5),
 (11400,21),(11500,21),(11600,21),(11700,20.5),(11800,21),(11900,20.5),(11960,21),(12000,25),(12040,21),(12100,21),
 (12200,20.5),(12300,21),(12400,21),(12460,28),(12500,25),(12560,24),(12620,27),(12690,31),(12740,27),(12800,24),
 (12860,24.5),(12920,22),(12990,20.7),(13060,22.7),(13150,22),(13250,21.5),(13350,21.2),(13450,22),(13550,23),(13640,23.6),
 (13715,25.6),(13790,22.2),(13880,27.5),(13960,22.7),(14080,23.2),(14160,24),(14240,24.6),(14320,20.2),(14440,19.8),
 (14560,18.3),(14680,17.8),(14800,18.8),(14920,19.8),(14990,17.3),(15050,20.2),(15130,19.2),(15230,21.2),(15290,19),
 (15370,23.6),(15450,19.5),(15530,16.8),(15610,16.4),(15690,18.3),(15770,18.3),(15850,18.8),(15930,21.5),(15990,24.6),
 (16055,26.6),(16120,23.2),(16250,21.7),(16370,20.7),(16500,19.8),(16620,18.3),(16700,16.8),(16820,17.3),(16940,17.8),
 (17020,18.8),(17140,20.7),(17260,19.8),(17380,18.3),(17500,17.3),(17620,16.8),(17750,16.4),(17870,16.4),(17990,16.8),
 (18070,16.4),(18170,15.9),
]

ca_avg = [
 (0,16),(20,12),(40,8),(60,6),(80,5),(100,5.5),(120,5),(140,6),(160,5),(180,7),(200,5.5),(220,8),(240,6),(260,9),(280,6.5),
 (300,10),(320,7),(340,12),(360,8),(380,15),(400,10),(420,17),(440,11),(460,19),(480,12),(500,16),(520,21),(540,13),
 (560,18),(580,11),(600,20),(620,10),(640,16),(660,8),(680,14),(700,7),(720,15),(740,10),(760,20),(780,12),(800,22),(820,9),
 (836,25.7),(850,12),(870,8),(890,18),(910,10),(930,15),(950,7),(970,13),(990,9),(1010,17),(1030,8),(1050,14),(1070,9),
 (1090,19),(1110,11),(1130,21),(1150,13),(1170,17),(1190,8),(1210,15),(1230,10),(1250,19),(1270,12),(1290,16),(1310,8),
 (1330,14),(1350,10),(1370,18),(1390,9),(1410,15),(1430,7),(1450,16),(1470,11),(1490,20),(1510,12),(1530,17),(1550,9),
 (1570,14),(1590,11),(1610,18),(1630,10),(1650,16),(1670,12),(1690,19),(1710,9),(1730,15),(1750,7),(1770,14),(1790,10),
 (1810,17),(1830,12),(1850,15),(1870,8),(1890,16),(1910,11),(1930,18),(1950,10),(1970,14),(1990,7),(2010,12),(2030,16),
 (2050,10),(2070,14),(2090,8),(2110,12),(2130,6),(2150,14),(2170,20),(2181,23.9),(2200,12),(2221,8.3),(2240,12),
 (2262,14.5),(2280,9),(2302,7),
 (2362,7.6),(2443,11.4),(2523,9),(2604,13.3),(2684,8.3),(2765,9.5),(2845,8.3),(2926,11.4),(2986,7),(3086,6.4),(3207,6.1),
 (3368,5.8),(3449,5.5),(3489,7),(3529,12.6),(3590,13.8),(3650,11.4),(3730,12.6),(3811,11.4),(3891,8.3),(3932,9.5),
 (3992,12),(4060,12.6),(4141,9.5),(4181,7),(4241,14.5),(4302,18.9),(4342,11.4),(4402,8.3),(4443,23.9),(4503,24.5),
 (4563,14.5),(4624,9),(4684,14.5),(4744,10.2),(4805,14.5),(4865,9),(4897,26.4),(4938,14.5),(4986,14.5),(5066,18.9),
 (5147,20.1),(5227,21),(5328,22),(5408,22.6),(5469,20.7),(5549,17),(5630,13.8),(5710,16.3),(5791,19.5),(5871,21.4),
 (5952,17),(5992,12.6),(6072,10.5),(6160,10.5),(6280,10.5),(6360,12),(6440,15.8),(6500,17.3),(6560,16.5),(6640,12.8),
 (6700,9.5),(6760,9.2),(6840,9.2),(6920,10.8),(7040,12.6),(7160,15.1),(7240,15.8),(7920,15.8),(8000,14.8),(8120,14.8),
 (8229,13.7),(8290,12.3),(8330,15),(8390,17.8),(8451,23.5),(8491,29),(8531,23.5),(8571,13),(8632,14.4),(8672,10.9),
 (8732,10.9),(8793,16.5),(8833,27),(8873,21.5),(8934,16.5),(8974,25.6),(9014,16.5),(9074,21.5),(9115,11),(9155,13),
 (9215,9.5),(9276,11.6),(9336,14.4),(9396,22.8),(9437,16.5),(9477,12.3),(9517,20.9),(9557,53.4),(9585,41.6),(9618,21.4),
 (9658,10.9),(9738,10.2),(9799,20),(9859,10.9),(9919,12.3),(9980,9.5),(10040,17.2),(10100,11.6),(10181,14.4),(10250,17.4),
 (10330,14),(10389,24.2),(10449,15.7),(10489,11.5),(10549,14.9),(10608,18.3),(10648,24.2),(10688,16.6),(10728,13.2),
 (10787,14.9),(10827,76.9),(10847,17.4),(10887,21.7),(10947,15.7),(11006,32.7),(11046,20.8),(11086,13.2),(11126,18.3),
 (11165,22.5),(11193,66.7),(11225,25.5),(11265,20.4),(11305,17.4),(11364,18.3),(11444,16.6),(11524,18.3),(11571,28),
 (11603,12.3),(11683,9.8),(11762,8.9),(11842,7.2),(11922,8.1),(12001,8.9),(12081,9.8),(12160,8.9),(12240,10.6),
 (12320,9.8),(12399,11.5),(12459,16.1),(12499,9.8),(12558,8.9),(12629,8.1),(12709,9),(12790,10),(12870,7.1),(12951,10.5),
 (13011,13.9),(13072,11),(13152,10.5),(13273,11.5),(13394,12),(13515,10.5),(13596,12.5),(13676,10.5),(13757,10.5),
 (13838,12),(13959,13.9),(14039,12.9),(14120,13.4),(14200,10.5),(14321,11.5),(14442,10.5),(14563,11.5),(14644,10),
 (14765,11),(14885,8.6),(14966,7.1),(15006,6.2),(15087,9.1),(15208,8.6),(15329,9.1),(15450,8.6),(15611,10.5),(15732,9.6),
 (15853,9.3),(15974,9.1),(16094,9.1),(16215,10),(16336,11),(16417,11.5),(16498,12),(16619,12.5),(16700,13.9),(16821,14.7),
 (16942,13.4),(17022,11),(17103,9.6),(17184,8.8),(17264,10),(17345,12),(17425,14.9),(17546,15.9),(17707,16.4),(17828,16.8),
 (17949,17.6),(18070,17.8),(18171,16.8),
]

mo_avg = [
 (0,5),(40,4),(80,3),(120,2.5),(160,2.5),(200,3),(250,2.5),(300,3),(350,3.5),(400,4),(450,4.5),(500,6),(550,8),(600,4),
 (650,5),(700,6),(750,3),(800,7),(850,4),(900,3),(950,4.5),(1000,3.5),(1050,2.5),(1100,5),(1150,9),(1200,3),(1250,4),
 (1300,5),(1350,2.5),(1400,4),(1450,6),(1500,3),(1550,4),(1600,5),(1650,3),(1700,7),(1750,3),(1800,4),(1850,4),(1900,6),
 (1950,3.5),(2000,2.5),(2050,4),(2100,4),(2150,3),(2200,3.5),(2250,5),(2300,3),(2400,3),(2500,3.5),(2600,3),(2700,3.5),
 (2800,3),(2900,3.2),(3000,3),(3100,2.8),(3200,3),(3300,3),(3400,3.3),(3500,3.5),(3600,4),(3700,5),(3800,4.5),(3900,4),
 (4000,4.5),(4100,4.5),(4200,5),(4300,5),(4400,5.5),(4500,5.5),(4600,5),(4700,5),(4800,5.5),(4880,6),(4900,11),(4930,8),
 (5000,7.5),(5100,7),(5200,6),(5300,5.5),(5400,4.8),(5500,4.5),(5600,4.2),(5680,5.5),(5740,9),(5780,8.5),(5850,6),
 (5900,5),(6000,4.5),(6100,4.5),(6200,4.5),(6300,4.8),(6400,5),(6500,5.5),(6600,6.5),(6700,7),(6760,6),(6800,5),(6900,4),
 (7000,3.8),(7100,3.6),(7200,3.5),(7600,3.5),(8000,3.5),(8100,3.2),(8200,3),(8300,3.5),(8400,4.5),(8450,6),(8500,5),
 (8550,4.5),(8600,5),(8700,5.5),(8780,8),(8850,5),(8950,6.5),(9000,6),(9100,4),(9200,6),(9300,9),(9350,5),(9450,5.5),
 (9500,6),(9600,4),(9700,3),(9800,2.5),(9900,2.5),(10000,2.3),(10200,2.1),(10400,2),(10600,2),(10790,2),(10810,4.5),
 (10830,2.2),(11000,2),(11200,1.9),(11400,1.8),(11600,1.7),(11800,1.7),(12000,1.7),(12200,1.6),(12400,1.6),(12550,1.6),
 (12620,2.5),(12650,3.5),(12700,2.5),(12750,1.8),(12900,1.6),(13000,1.5),(13200,1.6),(13300,1.8),(13400,2.2),(13500,2.5),
 (13600,2.4),(13700,2.6),(13800,3),(13900,2.8),(14000,3.2),(14100,4.2),(14160,3.5),(14220,2.5),(14300,1.3),(14500,0.9),
 (14800,1),(15000,1),(15500,1),(16000,1.1),(16500,1),(17000,0.9),(17500,0.9),(18000,0.8),(18100,0.8),
]

# event markers (dashed lines) and labels
event_x = [2280, 4450, 8160, 11790, 15020, 17770]
event_top = [108, 108, 109, 104.5, 88, 94]
event_bottom = [1, 1, 1, 65, 1, 55]
event_labels = ["~2250 yrBP", "~4400 yrBP", "~8150 yrBP", "~15000 yrBP"]
event_label_x = [2443, 4454, 8103, 14971]
event_label_y = [114.4, 114.4, 114.4, 90.3]

SI_C = '#C0504D'
MO_C = '#9BBB59'
CA_C = '#4F81BD'

# ---------------- figure ----------------
fig = plt.figure(figsize=(18.62, 10.92), dpi=100)
bg = fig.add_axes([0, 0, 1, 1], zorder=0)
grad = np.linspace(0.71, 0.62, 256)[:, None]
bg.imshow(grad, cmap='gray', vmin=0, vmax=1, aspect='auto', extent=[0, 1, 0, 1])
bg.set_axis_off()

ax = fig.add_axes([0.0765, 0.0957, 0.8875, 0.8843], zorder=1)
ax.set_facecolor('white')

sx, sy = zip(*(si_pts + si_pts_dense))
mx, my = zip(*(mo_pts + mo_pts_dense))
cx, cy = zip(*(ca_pts + ca_pts_dense))
ax.scatter(sx, sy, s=44, marker='s', color=SI_C, linewidths=0, zorder=3)
ax.scatter(mx, my, s=22, marker='D', color=MO_C, linewidths=0, zorder=3)
ax.scatter(cx, cy, s=44, marker='s', color=CA_C, linewidths=0, zorder=3)

ax.plot(*zip(*si_avg), color='#FF0000', lw=3.3, zorder=4, solid_joinstyle='round')
ax.plot(*zip(*mo_avg), color='#2F7F2F', lw=1.5, zorder=4)
ax.plot(*zip(*ca_avg), color='#0000FF', lw=1.8, zorder=4)

for xv, yt, yb in zip(event_x, event_top, event_bottom):
    ax.plot([xv, xv], [yb, yt], color='black', lw=2.9, dashes=(8, 3.5), zorder=5)

for lab, xv, yv in zip(event_labels, event_label_x, event_label_y):
    ax.text(xv, yv, lab, ha='center', va='center', fontsize=19, fontweight='bold',
            fontstyle='italic', zorder=6,
            bbox=dict(facecolor='white', edgecolor='none', pad=9))

ax.text(0.011, 0.94, "106KL", transform=ax.transAxes, fontsize=35, fontweight='bold',
        ha='left', va='center', zorder=6)

ax.set_xlim(0, 20000)
ax.set_ylim(0, 140)
ax.set_xticks(np.arange(0, 20001, 2000))
ax.set_yticks(np.arange(0, 141, 20))
ax.xaxis.set_minor_locator(MultipleLocator(200))
ax.grid(True, which='major', color='black', lw=1.3, zorder=1)
ax.set_axisbelow(True)
ax.tick_params(axis='both', which='major', labelsize=26, direction='out', length=9, width=1.3, color='black')
ax.tick_params(axis='x', which='major', pad=12)
ax.tick_params(axis='y', which='major', pad=6)
ax.tick_params(axis='x', which='minor', direction='out', length=6, width=1.0)
for lab in ax.get_xticklabels() + ax.get_yticklabels():
    lab.set_fontweight('bold')
for sp in ax.spines.values():
    sp.set_color('black')
    sp.set_linewidth(1.5)

fig.text(0.533, 0.017, "cal yr BP", ha='center', va='center', fontsize=26, fontweight='bold')
fig.text(0.016, 0.499, "Si:Al and Mo:Al ratio", ha='center', va='center', rotation=90,
         fontsize=26, fontweight='bold')

handles = [
    Line2D([], [], linestyle='none', marker='s', markersize=6, color=SI_C),
    Line2D([], [], linestyle='none', marker='D', markersize=4.5, color=MO_C),
    Line2D([], [], linestyle='none', marker='s', markersize=6, color=CA_C),
    Line2D([], [], color='#FF0000', lw=3),
    Line2D([], [], color='#2F7F2F', lw=1.4),
    Line2D([], [], color='#0000FF', lw=1.4),
]
labels = ["Si:Al", "Mo:Al", "Ca", "11 per. Mov. Avg. (Si:Al)", "11 per. Mov. Avg. (Mo:Al)",
          "11 per. Mov. Avg. (Ca)"]
leg = ax.legend(handles, labels, loc='upper right', bbox_to_anchor=(0.9554, 0.9641),
                bbox_transform=fig.transFigure, fontsize=19, frameon=True, fancybox=False,
                framealpha=1, edgecolor='black', handlelength=2.16, handletextpad=0.27,
                labelspacing=0.86, borderpad=0.6, borderaxespad=0)
leg.get_frame().set_linewidth(1.8)
leg.set_zorder(10)
for t in leg.get_texts():
    t.set_color('#1a1a2a')

fig.savefig("out.png", dpi=100)
